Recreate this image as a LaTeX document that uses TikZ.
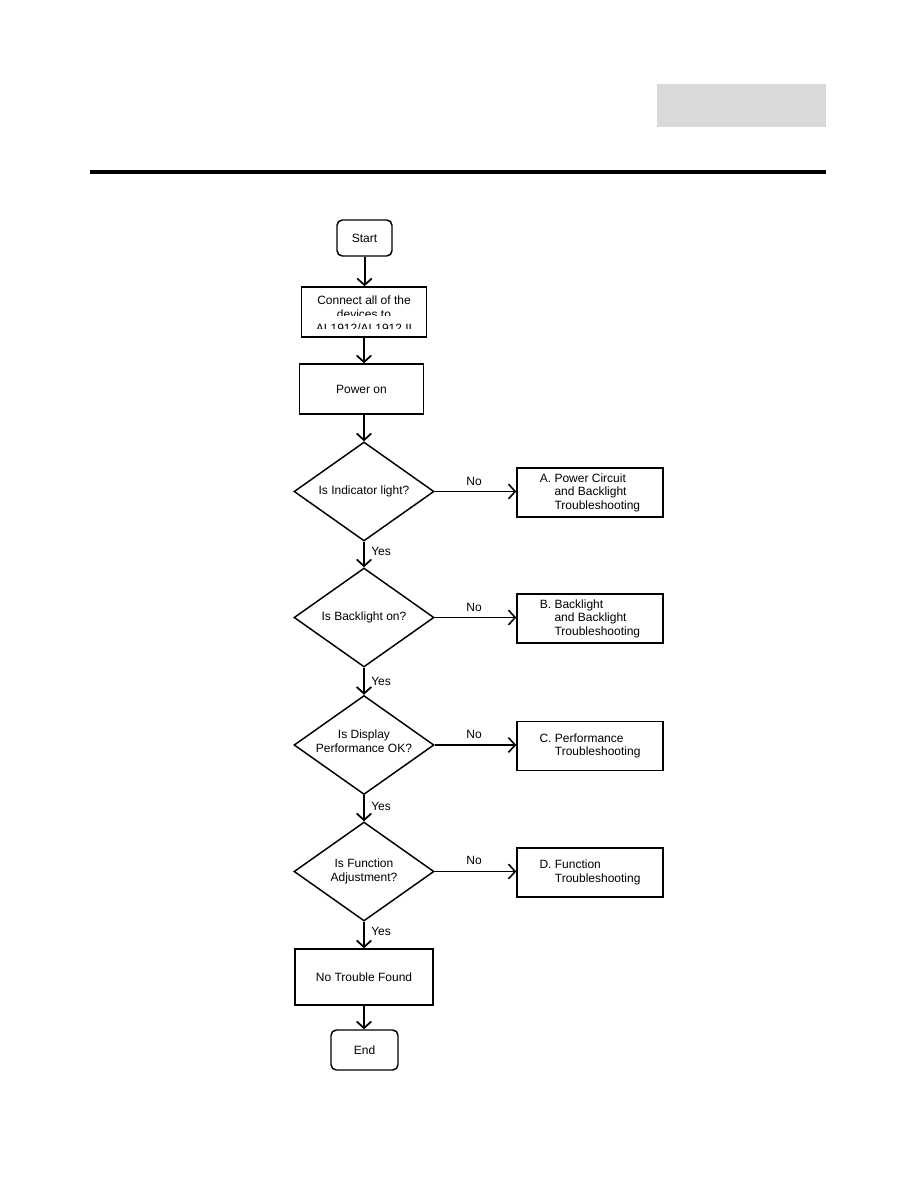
\documentclass[tikz,border=0pt]{standalone}
\usepackage{fontspec}
\setmainfont{Liberation Sans}
\usetikzlibrary{shapes.geometric,arrows.meta}
\tikzset{
  every node/.style={font=\fontsize{9pt}{10.1pt}\selectfont},
  box/.style={draw, line width=1.1pt, rectangle, inner sep=0pt},
  term/.style={draw, line width=1.1pt, rectangle, rounded corners=4pt, inner sep=0pt},
  dec/.style={draw, line width=1.1pt, diamond, inner sep=0pt, minimum width=105pt, minimum height=74.25pt},
  side/.style={box, minimum width=109.5pt, minimum height=36.75pt, align=left},
  flow/.style={line width=1.5pt, -{Straight Barb[length=5pt,width=11pt,line width=1.3pt]}},
  noflow/.style={line width=0.8pt, -{Straight Barb[length=5pt,width=11pt,line width=1.2pt]}},
  lab/.style={inner sep=0pt},
  dtext/.style={inner sep=0pt, align=center, font=\fontsize{9pt}{10.5pt}\selectfont}
}
\begin{document}
\begin{tikzpicture}[x=0.75pt,y=-0.75pt]
\useasboundingbox (0,0) rectangle (918,1188);
% header
\fill[fill={rgb,255:red,217;green,217;blue,217}] (657,84) rectangle (826,127);
\fill[black] (90,170) rectangle (826,173.5);

\node[term, minimum width=41.25pt, minimum height=27pt] (start) at (364.5,238) {Start};
\node[box, minimum width=93.75pt, minimum height=37.5pt] (connect) at (364,312) {};
\begin{scope}
  \clip (300,288) rectangle (428,315) (300,323) rectangle (428,328.5);
  \node[lab, anchor=base] (c1) at (364,304) {Connect all of the};
  \node[lab, anchor=base] (c2) at (364,318) {devices to};
  \node[lab, anchor=base] (c3) at (364,332) {AL1912/AL1912 II};
\end{scope}
\node[box, minimum width=93pt, minimum height=37.5pt] (power) at (361.5,389) {Power on};

\node[dec] (d1) at (364,491.5) {};
\node[dec] (d2) at (364,617.5) {};
\node[dec] (d3) at (364,745) {};
\node[dec] (d4) at (364,871.5) {};
\node[dtext] (t1) at (364,491) {Is Indicator light?};
\node[dtext] (t2) at (364,617) {Is Backlight on?};
\node[dtext] (t3) at (364,741) {Is Display\\Performance OK?};
\node[dtext] (t4) at (364,871) {Is Function\\Adjustment?};

\node[side] (ba) at (590,492.5) {A. Power Circuit\\\phantom{A. }and Backlight\\\phantom{A. }Troubleshooting};
\node[side] (bb) at (590,618.5) {B. Backlight\\\phantom{B. }and Backlight\\\phantom{B. }Troubleshooting};
\node[side] (bc) at (590,746) {C. Performance\\\phantom{C. }Troubleshooting};
\node[side] (bd) at (590,872.5) {D. Function\\\phantom{D. }Troubleshooting};

\node[box, minimum width=103.5pt, minimum height=42pt] (ntf) at (364,977) {No Trouble Found};
\node[term, minimum width=50.25pt, minimum height=30pt] (end) at (364.5,1050) {End};

% vertical flow
\draw[flow] (start.south) -- (start.south |- connect.north);
\draw[flow] (connect.south) -- (connect.south |- power.north);
\draw[flow] (364,414) -- (d1.north);
\draw[flow] (d1.south) -- (d2.north);
\draw[flow] (d2.south) -- (d3.north);
\draw[flow] (d3.south) -- (d4.north);
\draw[flow] (d4.south) -- (ntf.north);
\draw[flow] (ntf.south) -- (ntf.south |- end.north);
\node[lab, anchor=west] (y1) at (371,551) {Yes};
\node[lab, anchor=west] (y2) at (371,681) {Yes};
\node[lab, anchor=west] (y3) at (371,806) {Yes};
\node[lab, anchor=west] (y4) at (371,931) {Yes};

% No branches
\draw[noflow] (d1.east) -- (d1.east -| ba.west);
\draw[noflow] (d2.east) -- (d2.east -| bb.west);
\draw[noflow] (d3.east) -- (d3.east -| bc.west);
\draw[noflow] (d4.east) -- (d4.east -| bd.west);
\node[lab] (n1) at (474,481) {No};
\node[lab] (n2) at (474,607) {No};
\node[lab] (n3) at (474,734) {No};
\node[lab] (n4) at (474,860) {No};
\end{tikzpicture}
\end{document}
